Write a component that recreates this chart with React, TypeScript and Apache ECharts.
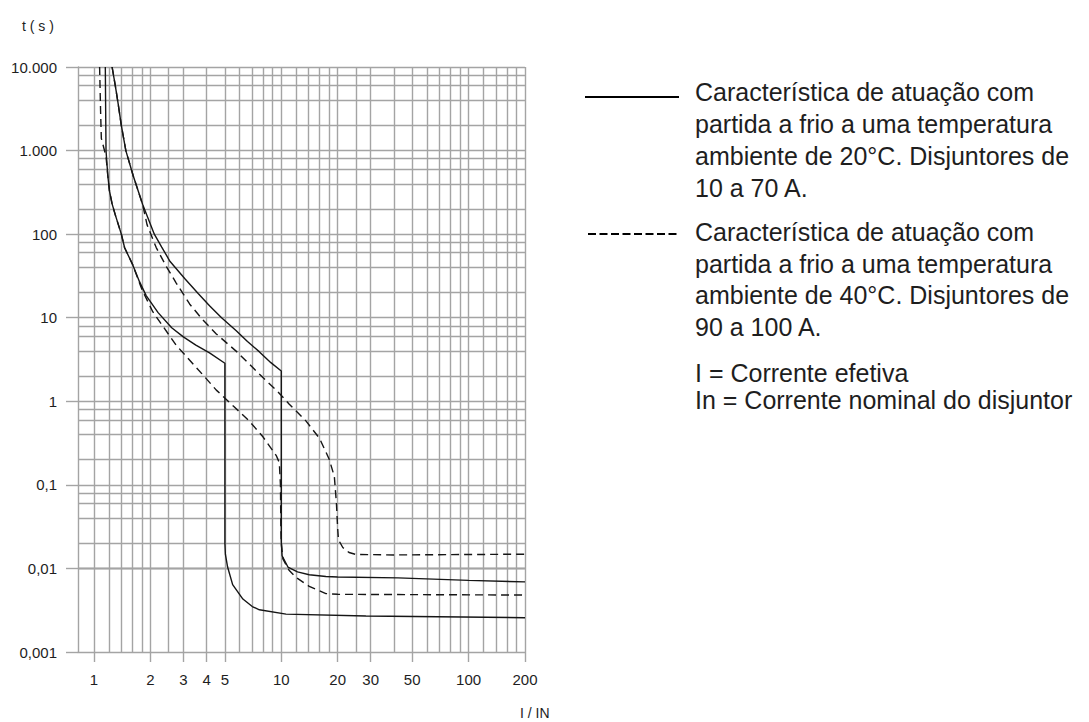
import React, { useEffect, useRef } from "react";
import * as echarts from "echarts";

// ---- axis ticks / labels ----
const xTickValues = [1, 2, 3, 4, 5, 10, 20, 30, 50, 100, 200];
const xTickLabels = ["1", "2", "3", "4", "5", "10", "20", "30", "50", "100", "200"];
const yTickValues = [0.001, 0.01, 0.1, 1, 10, 100, 1000, 10000];
const yTickLabels = ["0,001", "0,01", "0,1", "1", "10", "100", "1.000", "10.000"];

// ---- grid lines ----
const xGridValues = [
  1, 1.2, 1.4, 1.6, 1.8, 2, 2.5, 3, 4, 5, 6, 7, 8, 9,
  10, 12, 14, 16, 18, 20, 25, 30, 40, 50, 60, 70, 80, 90,
  100, 120, 140, 160, 180, 200,
];
const yGridValues = [
  0.001, 0.002, 0.004, 0.006, 0.008,
  0.01, 0.02, 0.04, 0.06, 0.08,
  0.1, 0.2, 0.4, 0.6, 0.8,
  1, 2, 4, 6, 8,
  10, 20, 40, 60, 80,
  100, 200, 400, 600, 800,
  1000, 2000, 4000, 6000, 8000,
  10000,
];

// ---- curves: [I/IN, t(s)] ----
const solid20Upper = [
  [1.25, 10000], [1.3, 6000], [1.34, 3900], [1.4, 2000], [1.48, 1000], [1.62, 500],
  [1.82, 226], [2.1, 100], [2.3, 70], [2.55, 47], [3.05, 29.5], [3.6, 19.5],
  [4.14, 13.9], [4.8, 10], [5.75, 7], [6.6, 5.2], [7.65, 3.9], [8.8, 2.9],
  [10, 2.3], [10, 0.021], [10.1, 0.0142], [10.85, 0.0104], [12.2, 0.0091],
  [14.1, 0.0084], [17.3, 0.008], [20, 0.0079], [42, 0.0077], [100, 0.0072], [200, 0.0069],
];
const solid20Lower = [
  [1.15, 10000], [1.155, 3000], [1.16, 1000], [1.185, 510], [1.21, 330], [1.25, 230],
  [1.3, 170], [1.4, 100], [1.458, 68.7], [1.61, 43], [1.75, 27], [1.9, 18.4],
  [2.2, 11.5], [2.6, 7.6], [3.0, 5.9], [3.5, 4.7], [4.14, 3.8], [5, 2.85],
  [5, 0.02], [5.03, 0.0148], [5.17, 0.0104], [5.5, 0.0064], [6.24, 0.0043],
  [7.0, 0.0035], [7.64, 0.0032], [10.6, 0.00284], [28.3, 0.0027], [200, 0.00257],
];
const dashed40Upper = [
  [1.25, 10000], [1.3, 6000], [1.34, 3900], [1.4, 2000], [1.48, 1000], [1.62, 500],
  [1.82, 226], [1.92, 130], [2.15, 69], [2.45, 40], [2.75, 26], [3.24, 14.6],
  [3.8, 9.5], [4.5, 6.4], [5.8, 3.9], [7.98, 1.92], [9.5, 1.33],
  [11, 0.93], [13.6, 0.575], [16, 0.36], [18, 0.204], [19.2, 0.126], [19.7, 0.06],
  [20, 0.03], [20.2, 0.022], [21.3, 0.0178], [23, 0.0155], [25, 0.0147], [40, 0.0145],
  [200, 0.0148],
];
const dashed40Lower = [
  [1.072, 10000], [1.085, 3000], [1.095, 1400], [1.16, 850], [1.185, 510], [1.21, 330],
  [1.25, 230], [1.3, 170], [1.4, 100], [1.458, 68.7], [1.61, 43], [1.8, 22],
  [2.06, 11.8], [2.75, 4.67], [3.9, 1.96], [4.5, 1.36], [5.6, 0.86], [6.75, 0.58],
  [7.98, 0.376], [9.4, 0.224], [9.76, 0.185], [9.9, 0.1], [9.95, 0.03], [10, 0.02],
  [10.2, 0.013], [11, 0.0095], [12, 0.0078], [14.1, 0.0061], [17.3, 0.005],
  [20, 0.0049], [200, 0.0048],
];

// ---- texts ----
const legendSolidLines = [
  "Característica de atuação com",
  "partida a frio a uma temperatura",
  "ambiente de 20°C. Disjuntores de",
  "10 a 70 A.",
];
const legendDashedLines = [
  "Característica de atuação com",
  "partida a frio a uma temperatura",
  "ambiente de 40°C. Disjuntores de",
  "90 a 100 A.",
];
const noteLines = ["I = Corrente efetiva", "In = Corrente nominal do disjuntor"];
const yAxisTitle = "t ( s )";
const xAxisTitle = "I / IN";

const FONT = '"Liberation Sans", Arial, Helvetica, sans-serif';
const GRID_COLOR = "#a4a4a4";
const CURVE_COLOR = "#151515";
const TEXT_COLOR = "#1e1e1e";

function lookup(values: number[], labels: string[], v: number) {
  for (let i = 0; i < values.length; i++) {
    if (Math.abs(values[i] - v) <= values[i] * 1e-6) return labels[i];
  }
  return "";
}

export default function App() {
  const ref = useRef<HTMLDivElement>(null);

  useEffect(() => {
    if (!ref.current) return;
    const chart = echarts.init(ref.current, null, { renderer: "svg" });

    const legendText = (lines: string[], ys: number[]) =>
      lines.map((t, i) => ({
        type: "text",
        x: 695,
        y: ys[i],
        silent: true,
        style: {
          text: t,
          fontSize: 25,
          fontFamily: FONT,
          fill: TEXT_COLOR,
          verticalAlign: "middle",
          align: "left",
        },
      }));

    const curveSeries = (name: string, data: number[][], dashed: boolean) => ({
      name,
      type: "line",
      data,
      showSymbol: false,
      symbol: "none",
      silent: true,
      z: 10,
      lineStyle: {
        color: CURVE_COLOR,
        width: 1.4,
        type: dashed ? [8, 5] : "solid",
      },
    });

    chart.setOption({
      animation: false,
      grid: { left: 78, right: 564, top: 67, bottom: 70, containLabel: false },
      xAxis: {
        type: "log",
        logBase: 10,
        min: 0.822,
        max: 200,
        axisLine: { show: true, lineStyle: { color: GRID_COLOR, width: 1.4 } },
        axisTick: {
          show: true,
          customValues: xTickValues,
          length: 10,
          lineStyle: { color: GRID_COLOR, width: 1.4 },
        },
        axisLabel: {
          customValues: xTickValues,
          formatter: (v: number) => lookup(xTickValues, xTickLabels, v),
          fontSize: 15,
          fontFamily: FONT,
          color: TEXT_COLOR,
          margin: 20,
        },
        splitLine: { show: false },
        minorTick: { show: false },
        minorSplitLine: { show: false },
      },
      yAxis: {
        type: "log",
        logBase: 10,
        min: 0.001,
        max: 10000,
        axisLine: { show: true, lineStyle: { color: GRID_COLOR, width: 1.4 } },
        axisTick: {
          show: true,
          customValues: yTickValues,
          length: 12,
          lineStyle: { color: GRID_COLOR, width: 1.4 },
        },
        axisLabel: {
          customValues: yTickValues,
          formatter: (v: number) => lookup(yTickValues, yTickLabels, v),
          fontSize: 15,
          fontFamily: FONT,
          color: TEXT_COLOR,
          margin: 21,
        },
        splitLine: { show: false },
        minorTick: { show: false },
        minorSplitLine: { show: false },
      },
      series: [
        {
          name: "grid",
          type: "line",
          data: [],
          silent: true,
          z: 1,
          markLine: {
            silent: true,
            z: 1,
            symbol: ["none", "none"],
            label: { show: false },
            emphasis: { disabled: true },
            animation: false,
            lineStyle: { color: GRID_COLOR, width: 1.4, type: "solid" },
            data: [
              ...xGridValues.map((v) => ({ xAxis: v })),
              ...yGridValues.map((v) => ({ yAxis: v })),
            ],
          },
        },
        curveSeries("20°C max", solid20Upper, false),
        curveSeries("20°C min", solid20Lower, false),
        curveSeries("40°C max", dashed40Upper, true),
        curveSeries("40°C min", dashed40Lower, true),
      ],
      graphic: [
        {
          type: "text",
          x: 22,
          y: 26,
          silent: true,
          style: { text: yAxisTitle, fontSize: 14, fontFamily: FONT, fill: TEXT_COLOR, verticalAlign: "middle" },
        },
        {
          type: "text",
          x: 520,
          y: 713,
          silent: true,
          style: { text: xAxisTitle, fontSize: 14, fontFamily: FONT, fill: TEXT_COLOR, verticalAlign: "middle" },
        },
        {
          type: "line",
          silent: true,
          shape: { x1: 585, y1: 97, x2: 679, y2: 97 },
          style: { stroke: "#000", lineWidth: 2 },
        },
        {
          type: "line",
          silent: true,
          shape: { x1: 588, y1: 234, x2: 679, y2: 234 },
          style: { stroke: "#000", lineWidth: 2, lineDash: [8, 3.5] },
        },
        ...legendText(legendSolidLines, [92, 124, 156, 188]),
        ...legendText(legendDashedLines, [232, 264, 295, 327]),
        ...legendText(noteLines, [373, 400]),
      ],
    });

    return () => chart.dispose();
  }, []);

  return (
    <div
      ref={ref}
      style={{ position: "fixed", left: 0, top: 0, width: 1089, height: 722, background: "#fff" }}
    />
  );
}
